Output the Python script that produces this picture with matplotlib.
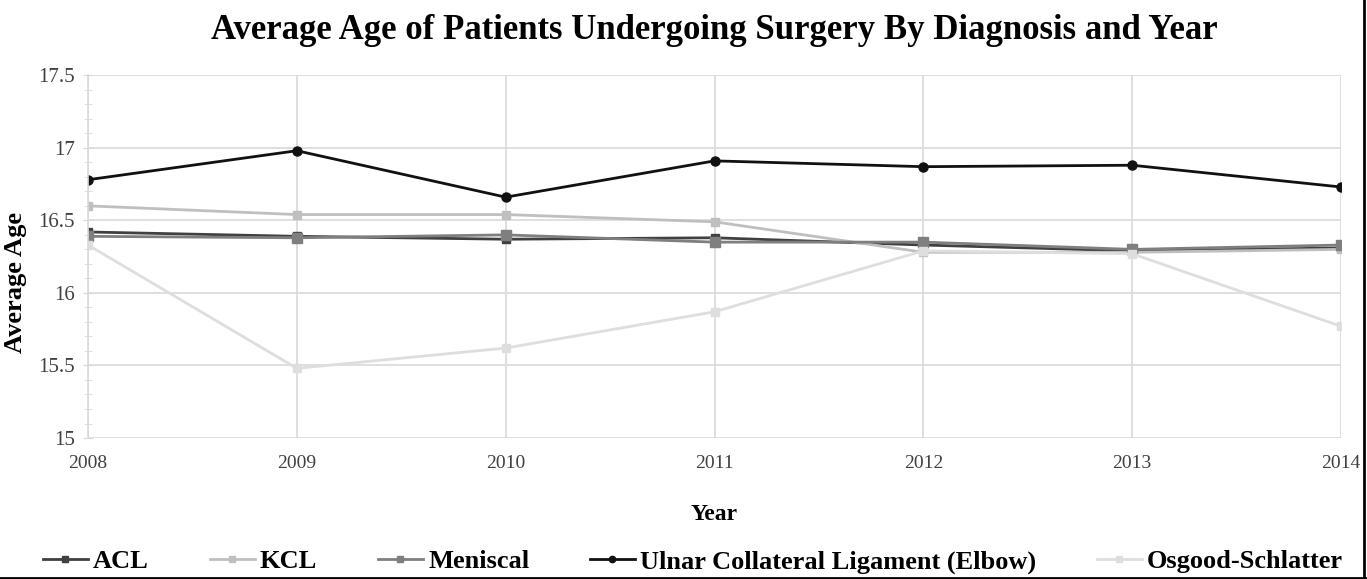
import matplotlib.pyplot as plt
from matplotlib.lines import Line2D

years = [2008, 2009, 2010, 2011, 2012, 2013, 2014]
acl = [16.42, 16.39, 16.37, 16.38, 16.33, 16.29, 16.31]
kcl = [16.60, 16.54, 16.54, 16.49, 16.28, 16.28, 16.30]
meniscal = [16.39, 16.38, 16.40, 16.35, 16.35, 16.30, 16.33]
ucl = [16.78, 16.98, 16.66, 16.91, 16.87, 16.88, 16.73]
osgood = [16.33, 15.48, 15.62, 15.87, 16.29, 16.27, 15.77]

plt.rcParams['font.family'] = ['Liberation Serif', 'DejaVu Serif']

fig = plt.figure(figsize=(13.67, 5.79), dpi=100)
ax = fig.add_axes([0.0644, 0.2435, 0.9166, 0.6265])

series = [
    ('ACL', acl, '#404040', 's', 6),
    ('KCL', kcl, '#bfbfbf', 's', 6),
    ('Meniscal', meniscal, '#7f7f7f', 's', 7),
    ('Ulnar Collateral Ligament (Elbow)', ucl, '#111111', 'o', 6.5),
    ('Osgood-Schlatter', osgood, '#dedede', 's', 6),
]
for name, vals, col, mk, ms in series:
    ax.plot(years, vals, color=col, lw=2, marker=mk, ms=ms, label=name)

ax.set_xlim(2008, 2014)
ax.set_ylim(15, 17.5)
ax.set_xticks(years)
ax.set_yticks([15, 15.5, 16, 16.5, 17, 17.5])
ax.set_yticklabels(['15', '15.5', '16', '16.5', '17', '17.5'])
ax.set_yticks([15 + 0.1 * i for i in range(26)], minor=True)
ax.grid(True, color='#d9d9d9', lw=1.2)
for s in ['top', 'right', 'bottom']:
    ax.spines[s].set_visible(False)
ax.spines['left'].set_color('#d9d9d9')
ax.spines['left'].set_linewidth(1.2)
ax.tick_params(axis='y', which='both', direction='inout', length=7, color='#d9d9d9',
               labelsize=15, labelcolor='#404040', pad=6)
ax.tick_params(axis='y', which='minor', length=6)
ax.tick_params(axis='x', length=0, labelsize=14, labelcolor='#404040', pad=12)

ax.set_title('Average Age of Patients Undergoing Surgery By Diagnosis and Year',
             fontsize=25, fontweight='bold', pad=26)
ax.set_ylabel('Average Age', fontsize=19, fontweight='bold')
ax.yaxis.set_label_coords(-0.049, 0.43)
ax.set_xlabel('Year', fontsize=17, fontweight='bold', labelpad=23)

fig.legend(loc='center', bbox_to_anchor=(0.507, 0.03), ncol=5, frameon=False,
           prop={'size': 19, 'weight': 'bold'}, handlelength=1.7, handletextpad=0.2,
           columnspacing=2.3, markerscale=0.7)

fig.add_artist(Line2D([0, 1], [0.002, 0.002], color='black', lw=2, transform=fig.transFigure))
fig.add_artist(Line2D([0.998, 0.998], [0, 1], color='black', lw=2, transform=fig.transFigure))

fig.savefig('out.png', dpi=100)
